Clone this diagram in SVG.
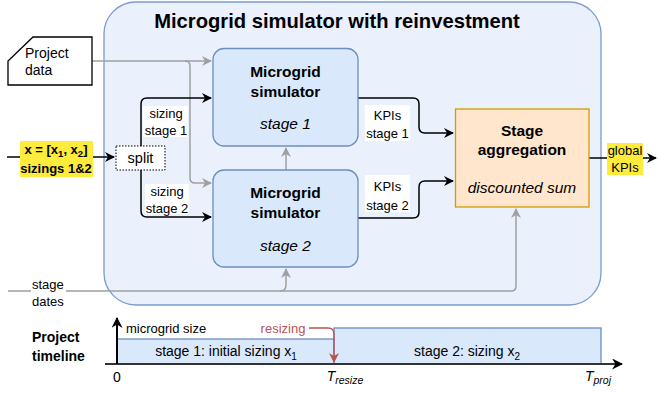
<svg xmlns="http://www.w3.org/2000/svg" width="658" height="394" viewBox="0 0 658 394">
<defs>
<marker id="ab" viewBox="0 0 10 10" refX="9" refY="5" markerWidth="10" markerHeight="10" markerUnits="userSpaceOnUse" orient="auto"><path d="M0,0 L10,5 L0,10 L3,5 Z" fill="#000"/></marker>
<marker id="ag" viewBox="0 0 10 10" refX="9" refY="5" markerWidth="10" markerHeight="10" markerUnits="userSpaceOnUse" orient="auto"><path d="M0,0 L10,5 L0,10 L3,5 Z" fill="#a0a0a0"/></marker>
<marker id="ar" viewBox="0 0 10 10" refX="9" refY="5" markerWidth="10" markerHeight="10" markerUnits="userSpaceOnUse" orient="auto"><path d="M0,0 L10,5 L0,10 L3,5 Z" fill="#b85450"/></marker>
<marker id="ak" viewBox="0 0 10 10" refX="9" refY="5" markerWidth="11" markerHeight="11" markerUnits="userSpaceOnUse" orient="auto"><path d="M0,0 L10,5 L0,10 L3,5 Z" fill="#000"/></marker>
</defs>
<style>
text{font-family:"Liberation Sans",Arial,sans-serif;fill:#000}
.t13{font-size:13px}
.t14{font-size:14px}
.bx{font-size:15.5px}
.b{font-weight:bold}
.i{font-style:italic}
.m{text-anchor:middle}
.blk{fill:none;stroke:#000;stroke-width:1.5}
.gry{fill:none;stroke:#a0a0a0;stroke-width:1.5}
.sim{fill:#dae8fc;stroke:#6c8ebf;stroke-width:1.3}
</style>
<g id="container">
<rect x="104" y="2" width="497" height="303" rx="32" fill="#eaf0fc" stroke="#7a9cce" stroke-width="1.3"/>
<text x="337" y="28" class="b m" font-size="20.2px">Microgrid simulator with reinvestment</text>
</g>
<g id="timeline">
<text x="32" y="342" class="t14 b">Project</text>
<text x="32" y="361" class="t14 b">timeline</text>
<rect x="117" y="339" width="217" height="25" class="sim"/>
<rect x="334" y="328" width="267" height="36" class="sim"/>
<text x="226" y="356" class="t14 m">stage 1: initial sizing x<tspan font-size="10px" dy="4">1</tspan></text>
<text x="467" y="356" class="t14 m">stage 2: sizing x<tspan font-size="10px" dy="4">2</tspan></text>
<path d="M105,364 L622,364" fill="none" stroke="#333" stroke-width="2" marker-end="url(#ak)"/>
<path d="M117,364 L117,318" fill="none" stroke="#000" stroke-width="2" marker-end="url(#ak)"/>
<text x="126" y="332.5" class="t13">microgrid size</text>
<text x="283" y="332.5" class="t13 m" style="fill:#b85450">resizing</text>
<text x="117" y="382" class="t14 m">0</text>
<text x="345" y="381" class="t14 m i">T<tspan font-size="10.5px" dy="3">resize</tspan></text>
<text x="598" y="381" class="t14 m i">T<tspan font-size="10.5px" dy="3">proj</tspan></text>
</g>
<g id="connectors">
<path class="gry" d="M92,61 L211,61" marker-end="url(#ag)"/>
<path class="gry" d="M185,61 Q190,61 190,66 L190,178 Q190,183 195,183 L211,183" marker-end="url(#ag)"/>
<path class="gry" d="M286,170 L286,148" marker-end="url(#ag)"/>
<path class="gry" d="M8,291 L511,291 Q516,291 516,286 L516,209" marker-end="url(#ag)"/>
<path class="gry" d="M280,291 Q286,291 286,285 L286,269" marker-end="url(#ag)"/>
<path class="blk" d="M7,157 L114,157" marker-end="url(#ab)"/>
<path class="blk" d="M141,146 L141,104 Q141,98 147,98 L211,98" marker-end="url(#ab)"/>
<path class="blk" d="M141,170 L141,211 Q141,217 147,217 L211,217" marker-end="url(#ab)"/>
<path class="blk" d="M358,98 L413,98 Q419,98 419,104 L419,127 Q419,133 425,133 L453,133" marker-end="url(#ab)"/>
<path class="blk" d="M358,218 L413,218 Q419,218 419,212 L419,187 Q419,181 425,181 L453,181" marker-end="url(#ab)"/>
<path class="blk" d="M589,158 L656,158" marker-end="url(#ab)"/>
<path fill="none" stroke="#b85450" stroke-width="1.3" d="M309,328 L328,328 Q334,328 334,334 L334,362" marker-end="url(#ar)"/>
</g>
<g id="project-data">
<path d="M33,37 L92,37 L92,85 L8,85 L8,61 Z" fill="#fff" stroke="#000" stroke-width="1.3"/>
<text x="25" y="58" class="t14">Project</text>
<text x="25" y="75" class="t14">data</text>
</g>
<g id="x-input">
<rect x="20" y="141" width="73" height="36" fill="#ffeb3b"/>
<text x="56" y="153.5" class="t13 b m">x = [x<tspan font-size="9.5px" dy="3">1</tspan><tspan dy="-3">, x</tspan><tspan font-size="9.5px" dy="3">2</tspan><tspan dy="-3">]</tspan></text>
<text x="56" y="172.5" class="t13 b m">sizings 1&amp;2</text>
</g>
<g id="split">
<rect x="116" y="146" width="49" height="24" fill="#fff" stroke="#000" stroke-width="1" stroke-dasharray="1.5 1.5"/>
<text x="140.5" y="163" class="m" font-size="14.5px">split</text>
</g>
<g id="sizing-stage-1">
<rect x="143" y="106" width="45" height="31" fill="#fff"/>
<text x="166" y="117.5" class="t13 m">sizing</text>
<text x="166" y="134.5" class="t13 m">stage 1</text>
</g>
<g id="sizing-stage-2">
<rect x="145" y="184" width="44" height="30" fill="#fff"/>
<text x="167" y="195.5" class="t13 m">sizing</text>
<text x="167" y="212.5" class="t13 m">stage 2</text>
</g>
<g id="sim1">
<rect x="213" y="48.5" width="145" height="97.5" rx="11" class="sim"/>
<text x="285.5" y="76.5" class="bx b m">Microgrid</text>
<text x="285.5" y="96.5" class="bx b m">simulator</text>
<text x="285.5" y="128.5" class="bx i m">stage 1</text>
</g>
<g id="sim2">
<rect x="213" y="170" width="145" height="97" rx="11" class="sim"/>
<text x="285.5" y="197.5" class="bx b m">Microgrid</text>
<text x="285.5" y="217.5" class="bx b m">simulator</text>
<text x="285.5" y="250.5" class="bx i m">stage 2</text>
</g>
<g id="kpis-stage-1">
<rect x="365" y="105" width="45" height="36" fill="#fff"/>
<text x="387.5" y="119.5" class="t13 m">KPIs</text>
<text x="387.5" y="137.5" class="t13 m">stage 1</text>
</g>
<g id="kpis-stage-2">
<rect x="365" y="175" width="45" height="37" fill="#fff"/>
<text x="387.5" y="190.5" class="t13 m">KPIs</text>
<text x="387.5" y="209.5" class="t13 m">stage 2</text>
</g>
<g id="aggregation">
<rect x="455.5" y="109" width="133.5" height="98" fill="#ffe6cc" stroke="#d79b00" stroke-width="1.3"/>
<text x="522" y="135.5" class="bx b m">Stage</text>
<text x="522" y="154.5" class="bx b m">aggregation</text>
<text x="522" y="192.5" class="bx i m">discounted sum</text>
</g>
<g id="global-kpis">
<rect x="607" y="143" width="36" height="32" fill="#ffeb3b"/>
<text x="625" y="154.5" class="t13 m">global</text>
<text x="625" y="171.5" class="t13 m">KPIs</text>
</g>
<g id="stage-dates">
<rect x="31" y="277" width="35" height="32" fill="#fff"/>
<text x="32" y="288.5" class="t13">stage</text>
<text x="32" y="305.5" class="t13">dates</text>
</g>
</svg>
